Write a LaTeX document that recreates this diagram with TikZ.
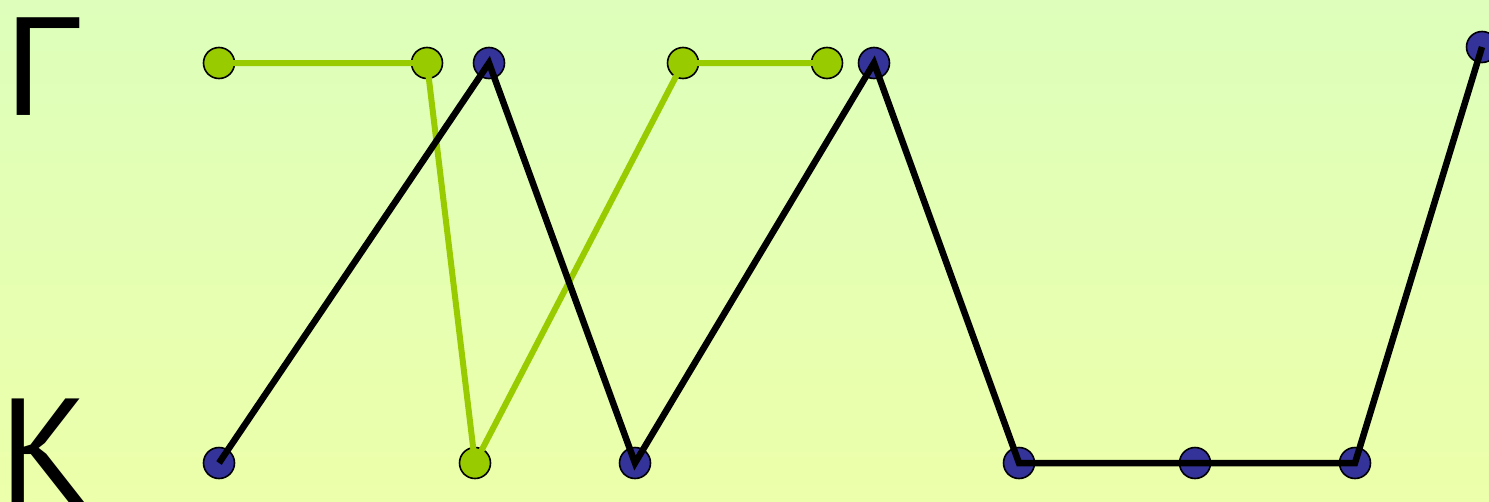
\documentclass[tikz,border=0pt]{standalone}
\usepackage{fontspec}
\usepackage{xcolor}
\usepackage{tikz}
\newfontfamily\letterfont{Liberation Sans}
\newfontfamily\kafont{PT Sans}
\definecolor{bgtop}{RGB}{221,255,187}
\definecolor{bgbottom}{RGB}{236,255,170}
\definecolor{leafgreen}{RGB}{153,204,0}
\definecolor{inkblue}{RGB}{51,51,153}

\begin{document}
\begin{tikzpicture}[x=1pt, y=-1pt,
  gdot/.style={circle, draw=black, line width=1.6pt, fill=leafgreen, minimum size=31pt, inner sep=0pt},
  bdot/.style={circle, draw=black, line width=1.6pt, fill=inkblue, minimum size=31pt, inner sep=0pt},
  gpath/.style={draw=leafgreen, line width=6pt, line join=miter},
  bpath/.style={draw=black, line width=6.5pt, line join=miter},
  letter/.style={anchor=base west, inner sep=0pt, font=\letterfont\fontsize{142}{142}\selectfont}]
\shade[top color=bgtop, bottom color=bgbottom] (0,0) rectangle (1489,501);
\useasboundingbox (0,0) rectangle (1489,501);
\node[letter] (gamma) at (5,115) {Γ};
\node[letter, font=\kafont\fontsize{148}{148}\selectfont] (ka) at (-1,502) {К};
% upper row
\node[gdot] (g1) at (219,63) {};
\node[gdot] (g2) at (427,63) {};
\node[bdot] (b1) at (489,63) {};
\node[gdot] (g3) at (683,63) {};
\node[gdot] (g4) at (827,63) {};
\node[bdot] (b2) at (874,63) {};
\node[bdot] (b3) at (1482,47) {};
% lower row
\node[bdot] (b4) at (219,463) {};
\node[gdot] (g5) at (475,463) {};
\node[bdot] (b5) at (635,463) {};
\node[bdot] (b6) at (1019,463) {};
\node[bdot] (b7) at (1195,463) {};
\node[bdot] (b8) at (1355,463) {};
\draw[gpath] (g1.center) -- (g2.center) -- (g5.center) -- (g3.center) -- (g4.center);
\draw[bpath] (b4.center) -- (b1.center) -- (b5.center) -- (b2.center) -- (b6.center)
  -- (b7.center) -- (b8.center) -- (b3.center);
\end{tikzpicture}
\end{document}
